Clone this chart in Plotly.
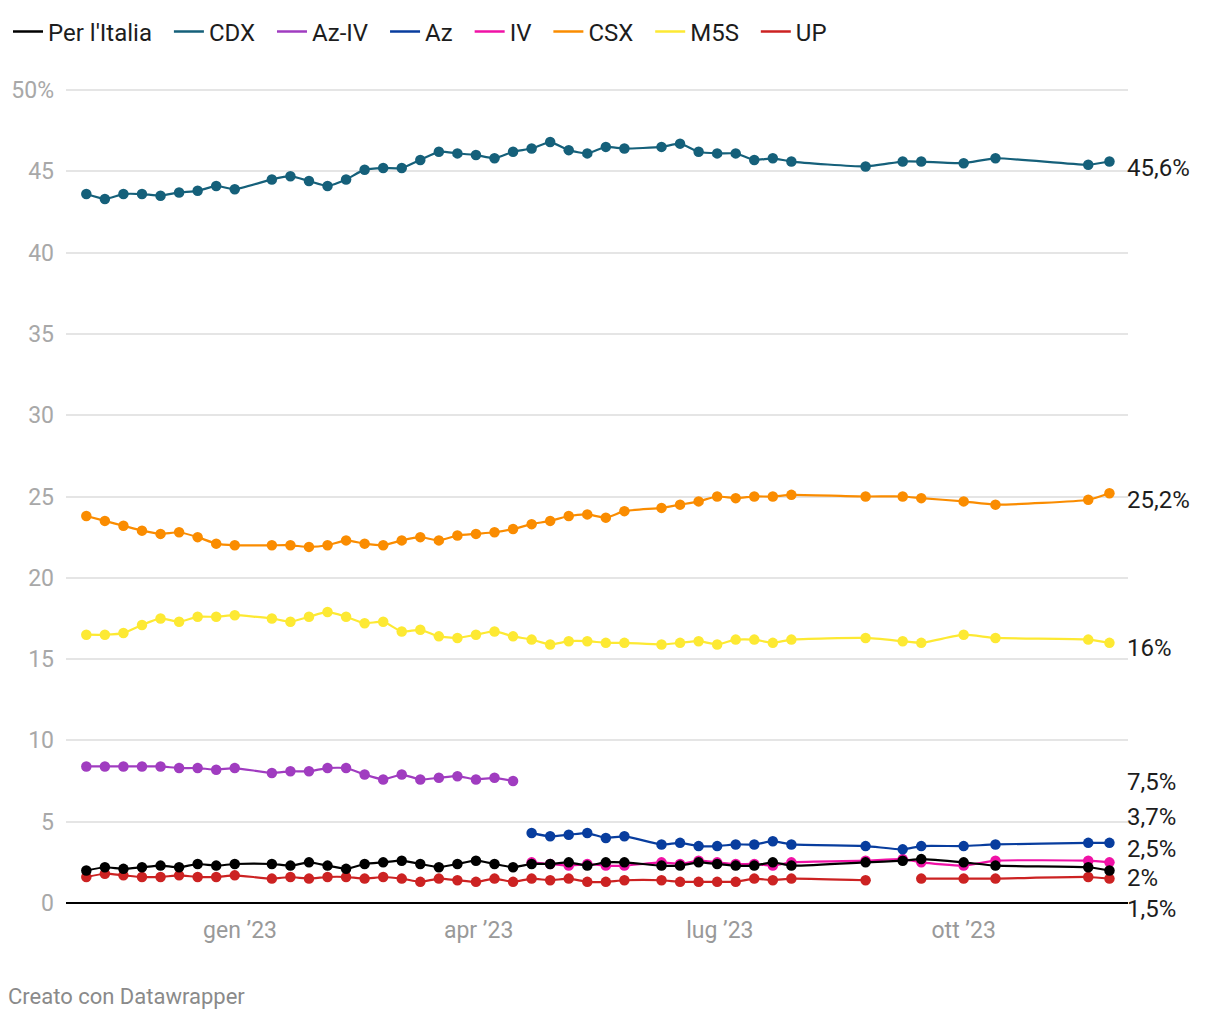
import plotly.graph_objects as go

dates = [
    "2022-11-04", "2022-11-11", "2022-11-18", "2022-11-25", "2022-12-02", "2022-12-09",
    "2022-12-16", "2022-12-23", "2022-12-30", "2023-01-13", "2023-01-20", "2023-01-27",
    "2023-02-03", "2023-02-10", "2023-02-17", "2023-02-24", "2023-03-03", "2023-03-10",
    "2023-03-17", "2023-03-24", "2023-03-31", "2023-04-07", "2023-04-14", "2023-04-21",
    "2023-04-28", "2023-05-05", "2023-05-12", "2023-05-19", "2023-05-26", "2023-06-09",
    "2023-06-16", "2023-06-23", "2023-06-30", "2023-07-07", "2023-07-14", "2023-07-21",
    "2023-07-28", "2023-08-25", "2023-09-08", "2023-09-15", "2023-10-01", "2023-10-13",
    "2023-11-17", "2023-11-25",
]

per_italia = [2.0, 2.2, 2.1, 2.2, 2.3, 2.2, 2.4, 2.3, 2.4, 2.4, 2.3, 2.5, 2.3, 2.1, 2.4,
              2.5, 2.6, 2.4, 2.2, 2.4, 2.6, 2.4, 2.2, 2.4, 2.4, 2.5, 2.3, 2.5, 2.5, 2.3,
              2.3, 2.5, 2.4, 2.3, 2.3, 2.5, 2.3, 2.5, 2.6, 2.7, 2.5, 2.3, 2.2, 2.0]
cdx = [43.6, 43.3, 43.6, 43.6, 43.5, 43.7, 43.8, 44.1, 43.9, 44.5, 44.7, 44.4, 44.1, 44.5,
       45.1, 45.2, 45.2, 45.7, 46.2, 46.1, 46.0, 45.8, 46.2, 46.4, 46.8, 46.3, 46.1, 46.5,
       46.4, 46.5, 46.7, 46.2, 46.1, 46.1, 45.7, 45.8, 45.6, 45.3, 45.6, 45.6, 45.5, 45.8,
       45.4, 45.6]
az_iv = [8.4, 8.4, 8.4, 8.4, 8.4, 8.3, 8.3, 8.2, 8.3, 8.0, 8.1, 8.1, 8.3, 8.3, 7.9, 7.6,
         7.9, 7.6, 7.7, 7.8, 7.6, 7.7, 7.5] + [None] * 21
az = [None] * 23 + [4.3, 4.1, 4.2, 4.3, 4.0, 4.1, 3.6, 3.7, 3.5, 3.5, 3.6, 3.6, 3.8, 3.6,
                    3.5, 3.3, 3.5, 3.5, 3.6, 3.7, 3.7]
iv = [None] * 23 + [2.5, 2.4, 2.3, 2.4, 2.3, 2.3, 2.5, 2.4, 2.6, 2.5, 2.4, 2.4, 2.3, 2.5,
                    2.6, 2.7, 2.5, 2.3, 2.6, 2.6, 2.5]
csx = [23.8, 23.5, 23.2, 22.9, 22.7, 22.8, 22.5, 22.1, 22.0, 22.0, 22.0, 21.9, 22.0, 22.3,
       22.1, 22.0, 22.3, 22.5, 22.3, 22.6, 22.7, 22.8, 23.0, 23.3, 23.5, 23.8, 23.9, 23.7,
       24.1, 24.3, 24.5, 24.7, 25.0, 24.9, 25.0, 25.0, 25.1, 25.0, 25.0, 24.9, 24.7, 24.5,
       24.8, 25.2]
m5s = [16.5, 16.5, 16.6, 17.1, 17.5, 17.3, 17.6, 17.6, 17.7, 17.5, 17.3, 17.6, 17.9, 17.6,
       17.2, 17.3, 16.7, 16.8, 16.4, 16.3, 16.5, 16.7, 16.4, 16.2, 15.9, 16.1, 16.1, 16.0,
       16.0, 15.9, 16.0, 16.1, 15.9, 16.2, 16.2, 16.0, 16.2, 16.3, 16.1, 16.0, 16.5, 16.3,
       16.2, 16.0]
up = [1.6, 1.8, 1.7, 1.6, 1.6, 1.7, 1.6, 1.6, 1.7, 1.5, 1.6, 1.5, 1.6, 1.6, 1.5, 1.6, 1.5,
      1.3, 1.5, 1.4, 1.3, 1.5, 1.3, 1.5, 1.4, 1.5, 1.3, 1.3, 1.4, 1.4, 1.3, 1.3, 1.3, 1.3,
      1.5, 1.4, 1.5, 1.4, None, 1.5, 1.5, 1.5, 1.6, 1.5]

series_names = ["Per l'Italia", "CDX", "Az-IV", "Az", "IV", "CSX", "M5S", "UP"]
series_values = [per_italia, cdx, az_iv, az, iv, csx, m5s, up]
series_colors = ["#000000", "#15607a", "#a03cc0", "#083d9e", "#f012a6", "#fa8c00", "#fde933", "#cc2222"]
label_shift = [-8, -6, -1, 26, 13, -7, -5, -30]

y_ticks = [0, 5, 10, 15, 20, 25, 30, 35, 40, 45, 50]
y_ticktext = ["0", "5", "10", "15", "20", "25", "30", "35", "40", "45", "50%"]
x_ticks = ["2023-01-01", "2023-04-01", "2023-07-01", "2023-10-01"]
x_ticktext = ["gen \u201923", "apr \u201923", "lug \u201923", "ott \u201923"]

FONT = "Roboto"
fig = go.Figure()

# data traces (drawn in reverse so Per l'Italia is on top)
for name, vals, col in reversed(list(zip(series_names, series_values, series_colors))):
    fig.add_trace(go.Scatter(
        x=dates, y=vals, mode="lines+markers", name=name,
        line=dict(color=col, width=2.2, shape="spline", smoothing=0.5),
        marker=dict(color=col, size=10.5),
        connectgaps=False, showlegend=False, hoverinfo="skip",
    ))

# legend-only traces (line symbol)
for name, col in zip(series_names, series_colors):
    fig.add_trace(go.Scatter(
        x=[None], y=[None], mode="lines", name=name + "\u00a0\u00a0",
        line=dict(color=col, width=2.5), showlegend=True,
    ))

# end labels
for name, vals, shift in zip(series_names, series_values, label_shift):
    last = [v for v in vals if v is not None][-1]
    txt = f"{last:g}".replace(".", ",") + "%"
    fig.add_annotation(
        xref="paper", yref="y", x=1, y=last, text=txt, showarrow=False,
        xanchor="left", yanchor="middle", yshift=shift, xshift=-3,
        font=dict(family=FONT, size=24, color="#1d1d1d"),
    )

fig.add_annotation(
    xref="paper", yref="paper", x=-0.0527, y=-0.115, text="Creato con Datawrapper",
    showarrow=False, xanchor="left", yanchor="middle", xshift=-4,
    font=dict(family=FONT, size=22, color="#8a8a8a"),
)

fig.update_layout(
    width=1212, height=1012,
    margin=dict(l=58, r=92, t=80, b=117, autoexpand=False),
    paper_bgcolor="white", plot_bgcolor="white",
    font=dict(family=FONT, size=23, color="#a0a0a0"),
    showlegend=True,
    legend=dict(
        orientation="h", xref="container", x=0.0, xanchor="left",
        yref="container", y=1 - 24 / 1012, yanchor="middle",
        font=dict(family=FONT, size=24, color="#1d1d1d"), traceorder="normal",
        itemwidth=30, bgcolor="rgba(0,0,0,0)",
    ),
    xaxis=dict(
        range=["2022-10-27 08:00", "2023-12-02"], tickvals=x_ticks, ticktext=x_ticktext,
        showgrid=False, zeroline=False, showline=False, ticks="", automargin=False,
        tickfont=dict(family=FONT, size=23, color="#999999"), ticklabelstandoff=11,
    ),
    yaxis=dict(
        range=[0, 50.123], tickvals=y_ticks, ticktext=y_ticktext, showgrid=True,
        gridcolor="#e5e5e5", gridwidth=1.5, zeroline=True, zerolinecolor="#000000",
        zerolinewidth=2, showline=False, ticks="", automargin=False,
        tickfont=dict(family=FONT, size=23, color="#a8a8a8"), ticklabelstandoff=11,
    ),
)

fig.write_html("out.html")
